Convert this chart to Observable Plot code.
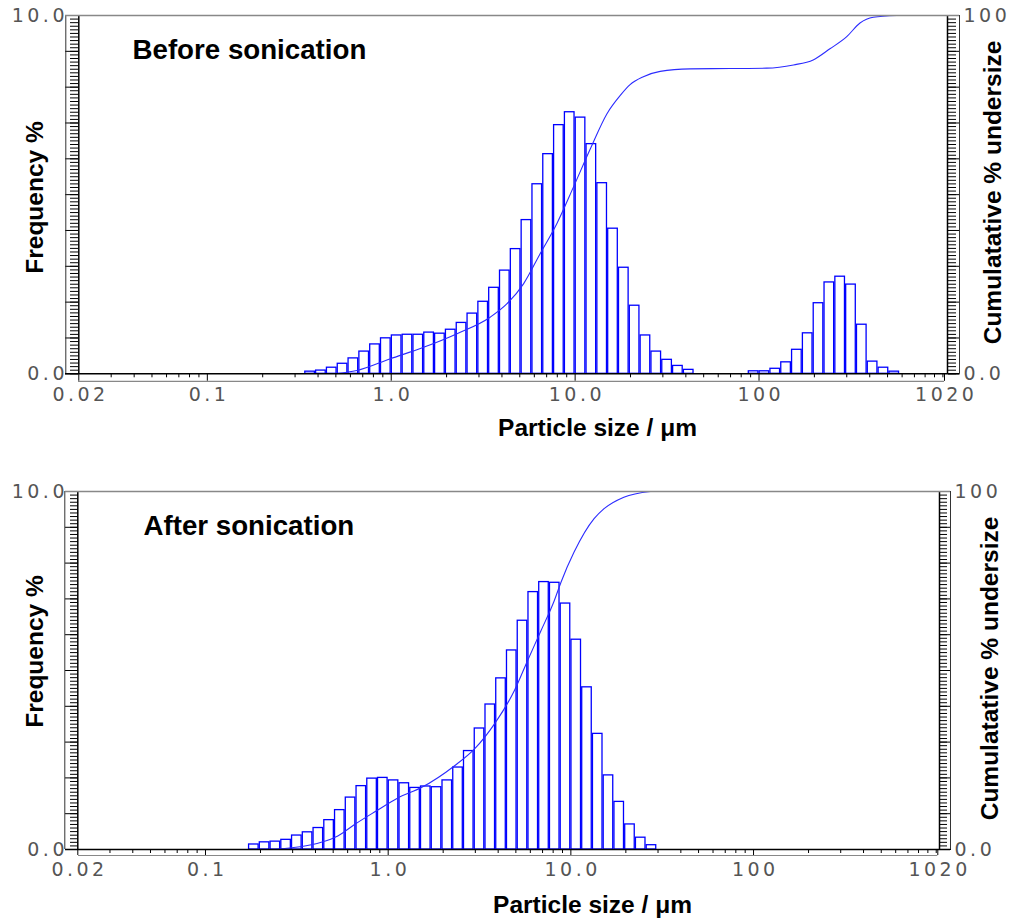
<!DOCTYPE html>
<html><head><meta charset="utf-8">
<script src="https://cdn.jsdelivr.net/npm/d3@7"></script>
<script src="https://cdn.jsdelivr.net/npm/@observablehq/plot@0.6"></script>
<style>
html,body{margin:0;padding:0;background:#fff;}
#chart{position:relative;width:1013px;height:922px;overflow:hidden;}
.panel{position:absolute;left:0;}
.panel svg{display:block;}
.panel text{letter-spacing:3.5px;}
.panel g[font-weight="bold"] text{letter-spacing:0;}
</style></head><body><div id="chart"></div>
<script>
// Size class lower edges (µm), 17 classes per decade
const binEdges = [0.1719,0.1968,0.2254,0.2581,0.2955,0.3384,0.3875,0.4437,0.5080,0.5817,0.6661,0.7627,0.8733,
  1.0000,1.1450,1.3111,1.5013,1.7191,1.9684,2.2540,2.5809,2.9553,3.3839,3.8747,4.4368,5.0803,5.8172,6.6610,7.6271,8.7334,
  10.000,11.450,13.111,15.013,17.191,19.684,22.540,25.809,29.553,33.839,38.747,44.368,50.803,58.172,66.610,76.271,87.334,
  100.00,114.50,131.11,150.13,171.91,196.84,225.40,258.09,295.53,338.39,387.47,443.68,508.03,581.72];

// Frequency % per size class (60 classes)
const freqBefore = [0,0,0,0,0,
  0.06,0.09,0.17,0.28,0.43,0.62,0.82,0.99,1.07,1.09,1.09,1.15,1.12,1.23,1.42,1.68,
  2.01,2.40,2.88,3.48,4.29,5.29,6.13,6.94,7.30,7.15,6.41,5.32,4.05,2.96,1.90,1.07,
  0.62,0.39,0.22,0.11,
  0,0,0,0,0,
  0.07,0.07,0.14,0.32,0.67,1.13,1.97,2.55,2.71,2.49,1.37,0.34,0.17,0.06];
const freqAfter = [0.14,0.20,0.22,0.27,0.39,0.48,0.60,0.82,1.10,1.45,1.77,1.98,2.00,1.93,1.85,1.72,
  1.76,1.74,1.93,2.29,2.75,3.38,4.05,4.78,5.56,6.39,7.19,7.47,7.45,6.87,5.86,4.53,
  3.23,2.07,1.33,0.70,0.33,0.12,
  0,0,0,0,0,0,0,0,0,0,0,0,0,0,0,0,0,0,0,0,0,0];

// Cumulative % undersize
const cumBeforeSize = [0.50,0.65,0.99,1.50,2.28,3.45,4.25,5.24,6.45,7.95,9.79,12.1,14.9,17.6,19.9,23.5,29.0,42.2,69.5,110,154,197,243,300,354,418,560];
const cumBeforePct  = [0,0.9,4.2,7.4,11.2,15.8,19.5,25.1,33.5,41.9,52.1,62.8,72.6,77.7,80.7,82.9,84.4,85.1,85.2,85.3,86.2,87.6,90.7,94.1,97.9,99.5,100];
const cumAfterSize = [0.24,0.43,0.53,0.66,0.85,1.13,1.52,2.31,2.97,3.82,4.91,5.80,6.86,8.11,8.82,10.4,13.4,15.2,19.5,27.3];
const cumAfterPct  = [0,2.0,3.8,7.1,10.6,14.4,17.3,23.4,28.1,35.1,44.4,52.8,61.1,69.5,74.6,83.0,92.4,95.2,98.4,100];

// Axis ticks and labels
const xTickValues = [0.02,0.1,1,10,100,1020];
const xTickLabels = ["0.02","0.1","1.0","10.0","100","1020"];
const xMinorTicks = [0.03,0.04,0.05,0.06,0.07,0.08,0.09,0.2,0.3,0.4,0.5,0.6,0.7,0.8,0.9,2,3,4,5,6,7,8,9,20,30,40,50,60,70,80,90,200,300,400,500,600,700,800,900,1000];
const yLeftValues = [0,10];
const yLeftLabels = ["0.0","10.0"];
const yRightLabels = ["0.0","100"];
const panelTitles = ["Before sonication","After sonication"];
const yTitle = "Frequency %";
const y2Title = "Cumulatative % undersize";
const xTitle = "Particle size / μm";

const yMinor = d3.range(0, 101).map(i => i / 10);
const yMajor = d3.range(0, 11);
const BLUE = "#0000ff";
const LS = 3.5; // tick label letter spacing

function panel(cfg) {
  const bars = cfg.freq.map((f, i) => ({x1: binEdges[i], x2: binEdges[i + 1], f})).filter(d => d.f > 0);
  const cum = cfg.cumSize.map((s, i) => ({s, p: cfg.cumPct[i] / 10}));
  const plotBottom = cfg.height - cfg.marginBottom;
  const plotMidY = (cfg.marginTop + plotBottom) / 2;
  const frameMidX = (78 + cfg.rightInner) / 2;
  const rw = cfg.rightOuter - cfg.rightInner;
  const dxIn = cfg.rightInner - cfg.xRange[1];
  const bold = {fontFamily: "Liberation Sans, Arial, sans-serif", fontWeight: "bold", fill: "black"};
  const lab = {fill: "#555555", fontSize: 19, fontFamily: "DejaVu Sans"};
  const svg = Plot.plot({
    width: 1013, height: cfg.height,
    marginTop: cfg.marginTop, marginBottom: cfg.marginBottom,
    marginLeft: 78, marginRight: 1013 - cfg.rightInner,
    style: {background: "white", overflow: "visible", fontFamily: "DejaVu Sans"},
    x: {type: "log", domain: [0.02, 1020], range: cfg.xRange, axis: null},
    y: {domain: [0, 10], axis: null},
    marks: [
      Plot.rectY(bars, {x1: "x1", x2: "x2", y: "f", fill: "white", stroke: BLUE, strokeWidth: 1.3, insetLeft: 0.6, insetRight: 0.6}),
      Plot.line(cum, {x: "s", y: "p", stroke: "#2b2bff", strokeWidth: 1.1, curve: "monotone-x"}),
      // left ruler
      Plot.axisY({anchor: "left", ticks: yMinor, tickSize: 8, tickFormat: () => "", label: null, stroke: "black"}),
      Plot.axisY({anchor: "left", ticks: yMajor, tickSize: 13, tickFormat: () => "", label: null, stroke: "black"}),
      Plot.ruleX([0.02], {dx: -13, stroke: "#333", strokeWidth: 1}),
      Plot.ruleX([0.02], {stroke: "black", strokeWidth: 1.5}),
      // right ruler
      Plot.axisY({anchor: "right", ticks: yMinor, tickSize: rw - 4, tickFormat: () => "", label: null, stroke: "black"}),
      Plot.axisY({anchor: "right", ticks: yMajor, tickSize: rw, tickFormat: () => "", label: null, stroke: "black"}),
      Plot.ruleX([1020], {dx: dxIn, stroke: "black", strokeWidth: 1.5}),
      Plot.ruleX([1020], {dx: dxIn + rw, stroke: "#333", strokeWidth: 1}),
      // frame top and baseline
      Plot.ruleY([10], {stroke: "#888", strokeWidth: 1.5, insetLeft: -13, insetRight: -rw}),
      Plot.ruleY([0], {stroke: "black", strokeWidth: 1.5, insetLeft: -13, insetRight: -rw}),
      // x ruler
      Plot.axisX({anchor: "bottom", ticks: xMinorTicks, tickSize: 4, tickFormat: () => "", label: null, stroke: "black"}),
      Plot.axisX({anchor: "bottom", ticks: xTickValues, tickSize: cfg.xRuler, tickFormat: () => "", label: null, stroke: "black"}),
      Plot.ruleY([0], {dy: cfg.xRuler, stroke: "#888", strokeWidth: 1.2, insetRight: dxIn}),
      // tick labels
      Plot.text(xTickValues, {x: d => d, text: (d, i) => xTickLabels[i], frameAnchor: "bottom", dy: cfg.xLabDy, dx: LS / 2, textAnchor: "middle", lineAnchor: "middle", ...lab}),
      Plot.text(yLeftValues, {y: d => d, text: (d, i) => yLeftLabels[i], frameAnchor: "left", dx: -14 + LS, textAnchor: "end", lineAnchor: "middle", ...lab}),
      Plot.text(yLeftValues, {y: d => d, text: (d, i) => yRightLabels[i], frameAnchor: "right", dx: rw + 4, textAnchor: "start", lineAnchor: "middle", ...lab}),
      // titles
      Plot.text([cfg.title], {frameAnchor: "top-left", dx: cfg.titleX - 78, dy: cfg.titleY - cfg.marginTop, textAnchor: "start", lineAnchor: "middle", fontSize: 27.7, ...bold}),
      Plot.text([yTitle], {frameAnchor: "left", dx: -43, dy: cfg.yTitleY - plotMidY, rotate: -90, textAnchor: "middle", lineAnchor: "middle", fontSize: 24.5, ...bold}),
      Plot.text([y2Title], {frameAnchor: "right", dx: cfg.y2TitleX - cfg.rightInner, dy: cfg.y2TitleY - plotMidY, rotate: -90, textAnchor: "middle", lineAnchor: "middle", fontSize: 24.5, ...bold}),
      Plot.text([xTitle], {frameAnchor: "bottom", dx: cfg.xTitleX - frameMidX, dy: cfg.xTitleDy, textAnchor: "middle", lineAnchor: "middle", fontSize: 24.5, ...bold})
    ]
  });
  const div = document.createElement("div");
  div.className = "panel";
  div.style.top = cfg.top + "px";
  div.appendChild(svg);
  document.getElementById("chart").appendChild(div);
}

panel({
  top: 0, height: 445, marginTop: 15, marginBottom: 71.7,
  xRange: [78.3, 944], rightInner: 947, rightOuter: 959, xRuler: 7.5, xLabDy: 21,
  freq: freqBefore, cumSize: cumBeforeSize, cumPct: cumBeforePct,
  title: panelTitles[0], titleX: 132, titleY: 50,
  yTitleY: 197, y2TitleX: 993, y2TitleY: 192, xTitleX: 597, xTitleDy: 54
});
panel({
  top: 445, height: 477, marginTop: 46, marginBottom: 73,
  xRange: [77.3, 937.3], rightInner: 939, rightOuter: 950, xRuler: 6, xLabDy: 20,
  freq: freqAfter, cumSize: cumAfterSize, cumPct: cumAfterPct,
  title: panelTitles[1], titleX: 143, titleY: 526 - 445,
  yTitleY: 651 - 445, y2TitleX: 990, y2TitleY: 668 - 445, xTitleX: 592, xTitleDy: 56
});
</script></body></html>
